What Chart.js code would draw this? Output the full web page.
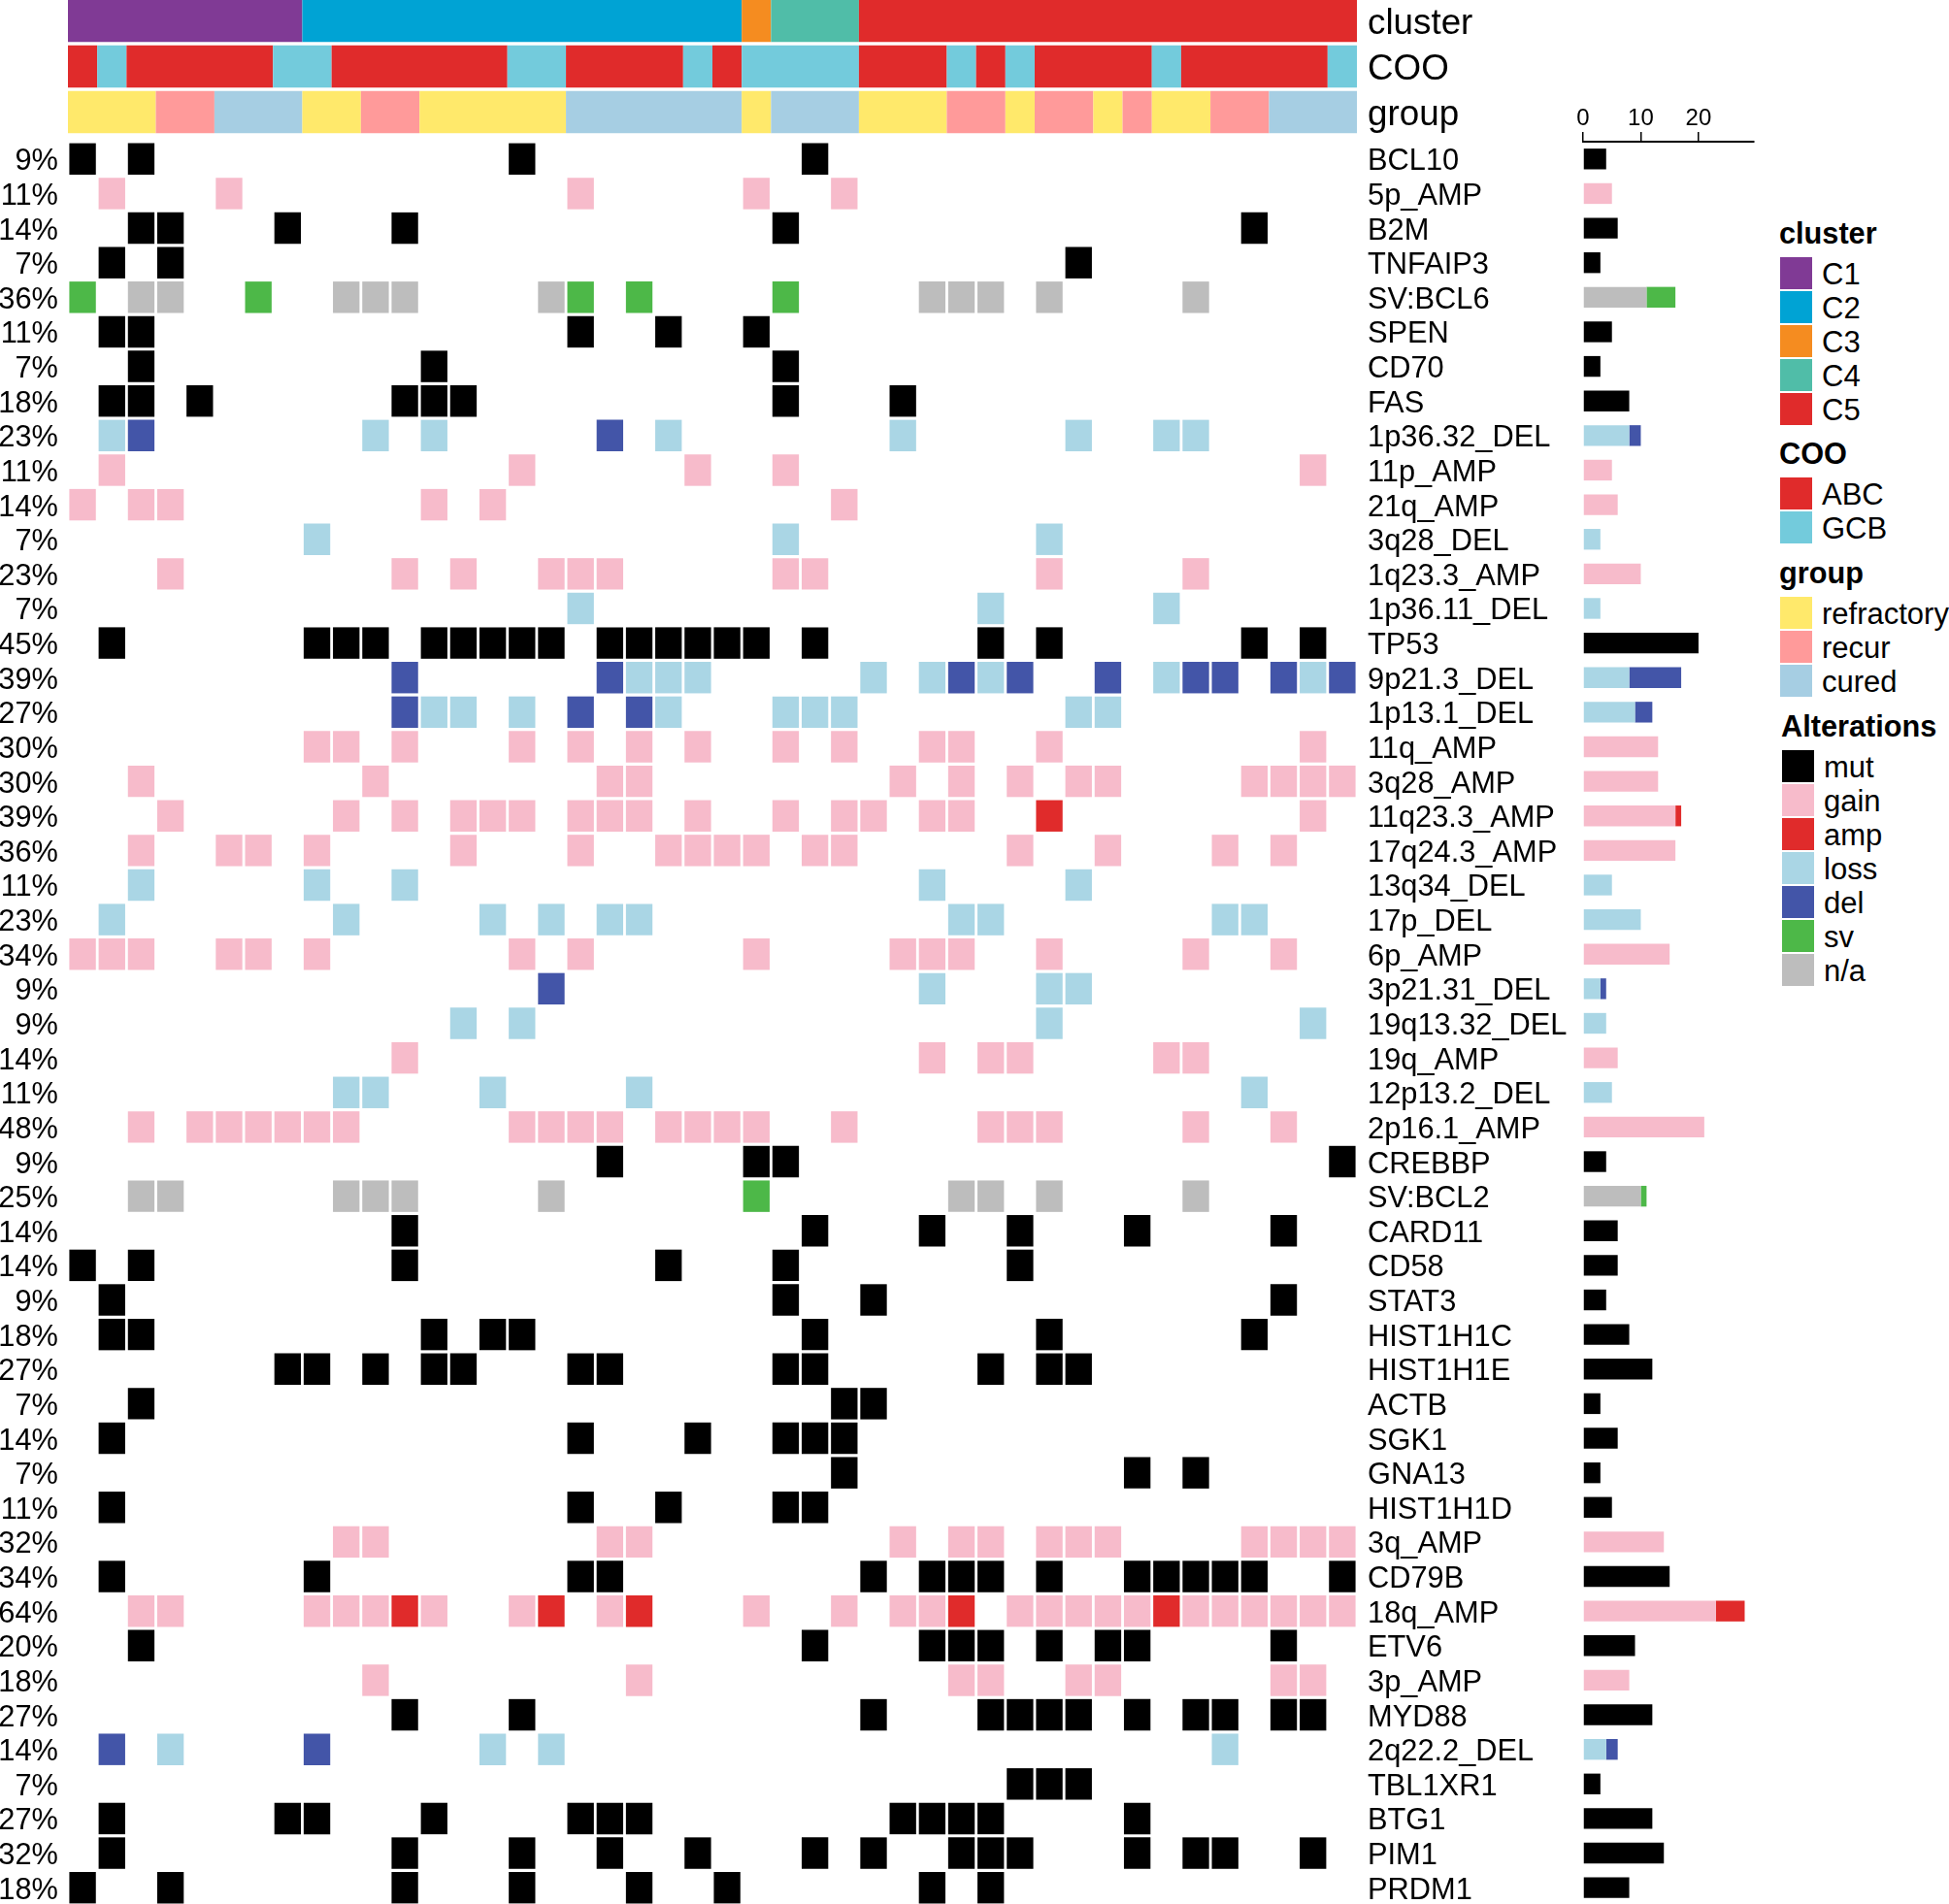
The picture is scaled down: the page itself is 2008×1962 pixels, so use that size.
<!DOCTYPE html>
<html>
<head>
<meta charset="utf-8">
<title>oncoprint</title>
<script src="https://cdn.jsdelivr.net/npm/chart.js@4/dist/chart.umd.min.js"></script>
<style>
  html, body { margin: 0; background: #fff; }
  body { position: relative; width: 2008px; height: 1962px; overflow: hidden; font-family: "Liberation Sans", sans-serif; color: #000; }
  canvas { position: absolute; }
  .legend-title { position: absolute; font-weight: bold; font-size: 30.7px; line-height: 34px; }
  .legend-swatch { position: absolute; width: 33px; height: 32.5px; }
  .legend-label { position: absolute; font-size: 31px; line-height: 33px; white-space: nowrap; }
</style>
</head>
<body>
<canvas id="tracks" width="1616" height="141" style="left:0;top:-2px"></canvas>
<canvas id="matrix" width="1616" height="1817" style="left:0;top:146px"></canvas>
<canvas id="bars" width="216" height="1863" style="left:1601px;top:100px"></canvas>
<script>
const sampleCount = 44;

const genes = ['BCL10', '5p_AMP', 'B2M', 'TNFAIP3', 'SV:BCL6', 'SPEN', 'CD70', 'FAS', '1p36.32_DEL', '11p_AMP',
    '21q_AMP', '3q28_DEL', '1q23.3_AMP', '1p36.11_DEL', 'TP53', '9p21.3_DEL', '1p13.1_DEL', '11q_AMP', '3q28_AMP',
    '11q23.3_AMP', '17q24.3_AMP', '13q34_DEL', '17p_DEL', '6p_AMP', '3p21.31_DEL', '19q13.32_DEL', '19q_AMP',
    '12p13.2_DEL', '2p16.1_AMP', 'CREBBP', 'SV:BCL2', 'CARD11', 'CD58', 'STAT3', 'HIST1H1C', 'HIST1H1E', 'ACTB',
    'SGK1', 'GNA13', 'HIST1H1D', '3q_AMP', 'CD79B', '18q_AMP', 'ETV6', '3p_AMP', 'MYD88', '2q22.2_DEL', 'TBL1XR1',
    'BTG1', 'PIM1', 'PRDM1'];

const percents = ['9%', '11%', '14%', '7%', '36%', '11%', '7%', '18%', '23%', '11%',
    '14%', '7%', '23%', '7%', '45%', '39%', '27%', '30%', '30%',
    '39%', '36%', '11%', '23%', '34%', '9%', '9%', '14%',
    '11%', '48%', '9%', '25%', '14%', '14%', '9%', '18%', '27%', '7%',
    '14%', '7%', '11%', '32%', '34%', '64%', '20%', '18%', '27%', '14%', '7%',
    '27%', '32%', '18%'];

// top annotation tracks: [value, number of samples in a row]
const clusterRuns = [['C1', 8], ['C2', 15], ['C3', 1], ['C4', 3], ['C5', 17]];
const cooRuns = [['ABC', 1], ['GCB', 1], ['ABC', 5], ['GCB', 2], ['ABC', 6], ['GCB', 2], ['ABC', 4], ['GCB', 1],
    ['ABC', 1], ['GCB', 4], ['ABC', 3], ['GCB', 1], ['ABC', 1], ['GCB', 1], ['ABC', 4], ['GCB', 1], ['ABC', 5], ['GCB', 1]];
const groupRuns = [['refractory', 3], ['recur', 2], ['cured', 3], ['refractory', 2], ['recur', 2], ['refractory', 5],
    ['cured', 6], ['refractory', 1], ['cured', 3], ['refractory', 3], ['recur', 2], ['refractory', 1], ['recur', 2],
    ['refractory', 1], ['recur', 1], ['refractory', 2], ['recur', 2], ['cured', 3]];

// sample columns per gene, one list per alteration type
const mutCells = [
    ['BCL10', [0, 2, 15, 25]],
    ['B2M', [2, 3, 7, 11, 24, 40]],
    ['TNFAIP3', [1, 3, 34]],
    ['SPEN', [1, 2, 17, 20, 23]],
    ['CD70', [2, 12, 24]],
    ['FAS', [1, 2, 4, 11, 12, 13, 24, 28]],
    ['TP53', [1, 8, 9, 10, 12, 13, 14, 15, 16, 18, 19, 20, 21, 22, 23, 25, 31, 33, 40, 42]],
    ['CREBBP', [18, 23, 24, 43]],
    ['CARD11', [11, 25, 29, 32, 36, 41]],
    ['CD58', [0, 2, 11, 20, 24, 32]],
    ['STAT3', [1, 24, 27, 41]],
    ['HIST1H1C', [1, 2, 12, 14, 15, 25, 33, 40]],
    ['HIST1H1E', [7, 8, 10, 12, 13, 17, 18, 24, 25, 31, 33, 34]],
    ['ACTB', [2, 26, 27]],
    ['SGK1', [1, 17, 21, 24, 25, 26]],
    ['GNA13', [26, 36, 38]],
    ['HIST1H1D', [1, 17, 20, 24, 25]],
    ['CD79B', [1, 8, 17, 18, 27, 29, 30, 31, 33, 36, 37, 38, 39, 40, 43]],
    ['ETV6', [2, 25, 29, 30, 31, 33, 35, 36, 41]],
    ['MYD88', [11, 15, 27, 31, 32, 33, 34, 36, 38, 39, 41, 42]],
    ['TBL1XR1', [32, 33, 34]],
    ['BTG1', [1, 7, 8, 12, 17, 18, 19, 28, 29, 30, 31, 36]],
    ['PIM1', [1, 11, 15, 18, 21, 25, 27, 30, 31, 32, 36, 38, 39, 42]],
    ['PRDM1', [0, 3, 11, 15, 19, 22, 29, 31]]
];
const gainCells = [
    ['5p_AMP', [1, 5, 17, 23, 26]],
    ['11p_AMP', [1, 15, 21, 24, 42]],
    ['21q_AMP', [0, 2, 3, 12, 14, 26]],
    ['1q23.3_AMP', [3, 11, 13, 16, 17, 18, 24, 25, 33, 38]],
    ['11q_AMP', [8, 9, 11, 15, 17, 19, 21, 24, 26, 29, 30, 33, 42]],
    ['3q28_AMP', [2, 10, 18, 19, 28, 30, 32, 34, 35, 40, 41, 42, 43]],
    ['11q23.3_AMP', [3, 9, 11, 13, 14, 15, 17, 18, 19, 21, 24, 26, 27, 29, 30, 42]],
    ['17q24.3_AMP', [2, 5, 6, 8, 13, 17, 20, 21, 22, 23, 25, 26, 32, 35, 39, 41]],
    ['6p_AMP', [0, 1, 2, 5, 6, 8, 15, 17, 23, 28, 29, 30, 33, 38, 41]],
    ['19q_AMP', [11, 29, 31, 32, 37, 38]],
    ['2p16.1_AMP', [2, 4, 5, 6, 7, 8, 9, 15, 16, 17, 18, 20, 21, 22, 23, 26, 31, 32, 33, 38, 41]],
    ['3q_AMP', [9, 10, 18, 19, 28, 30, 31, 33, 34, 35, 40, 41, 42, 43]],
    ['18q_AMP', [2, 3, 8, 9, 10, 12, 15, 18, 23, 26, 28, 29, 32, 33, 34, 35, 36, 38, 39, 40, 41, 42, 43]],
    ['3p_AMP', [10, 19, 30, 31, 34, 35, 41, 42]]
];
const ampCells = [
    ['11q23.3_AMP', [33]],
    ['18q_AMP', [11, 16, 19, 30, 37]]
];
const lossCells = [
    ['1p36.32_DEL', [1, 10, 12, 20, 28, 34, 37, 38]],
    ['3q28_DEL', [8, 24, 33]],
    ['1p36.11_DEL', [17, 31, 37]],
    ['9p21.3_DEL', [19, 20, 21, 27, 29, 31, 37, 42]],
    ['1p13.1_DEL', [12, 13, 15, 20, 24, 25, 26, 34, 35]],
    ['13q34_DEL', [2, 8, 11, 29, 34]],
    ['17p_DEL', [1, 9, 14, 16, 18, 19, 30, 31, 39, 40]],
    ['3p21.31_DEL', [29, 33, 34]],
    ['19q13.32_DEL', [13, 15, 33, 42]],
    ['12p13.2_DEL', [9, 10, 14, 19, 40]],
    ['2q22.2_DEL', [3, 14, 16, 39]]
];
const delCells = [
    ['1p36.32_DEL', [2, 18]],
    ['9p21.3_DEL', [11, 18, 30, 32, 35, 38, 39, 41, 43]],
    ['1p13.1_DEL', [11, 17, 19]],
    ['3p21.31_DEL', [16]],
    ['2q22.2_DEL', [1, 8]]
];
const svCells = [
    ['SV:BCL6', [0, 6, 17, 19, 24]],
    ['SV:BCL2', [23]]
];
const naCells = [
    ['SV:BCL6', [2, 3, 9, 10, 11, 16, 29, 30, 31, 33, 38]],
    ['SV:BCL2', [2, 3, 9, 10, 11, 16, 30, 31, 33, 38]]
];

const colors = {
    C1: '#803a95', C2: '#00a3d4', C3: '#f58c20', C4: '#50bda8', C5: '#e02b2b',
    ABC: '#e02b2b', GCB: '#73cbdc',
    refractory: '#ffe96b', recur: '#ff9a9a', cured: '#a6cee3',
    mut: '#000000', gain: '#f7bbcb', amp: '#e02b2b', loss: '#aad6e5', del: '#4355a8', sv: '#4db848', 'n/a': '#bdbdbd'
};

const fontName = '"Liberation Sans", sans-serif';
const cellGap = 0.047;

// shared by the three charts
function baseOptions() {
    return {
        responsive: false,
        animation: false,
        indexAxis: 'y',
        events: [],
        plugins: { legend: { display: false }, tooltip: { enabled: false } }
    };
}

function hiddenColumnAxis() {
    return { type: 'linear', min: 0, max: sampleCount, display: false };
}

function labelAxis(position, labels, size, padding, width) {
    return {
        axis: 'y',
        type: 'category',
        position: position,
        labels: labels,
        offset: true,
        grid: { display: false, drawTicks: false },
        border: { display: false },
        ticks: {
            autoSkip: false,
            color: '#000',
            padding: padding,
            labelOffset: 3,
            font: { family: fontName, size: size }
        },
        afterFit: function (scale) {
            // fixed gutter, and no extra room for the first and last label
            scale.width = width;
            scale.paddingTop = 0;
            scale.paddingBottom = 0;
        }
    };
}

function trackDataset(name, runs) {
    let start = 0;
    const data = runs.map(function (run) {
        const bar = { x: [start, start + run[1]], y: name };
        start += run[1];
        return bar;
    });
    return {
        data: data,
        backgroundColor: runs.map(function (run) { return colors[run[0]]; }),
        grouped: false,
        barPercentage: 0.93,
        categoryPercentage: 1,
        inflateAmount: 0
    };
}

function cellDataset(type, rows) {
    const data = [];
    rows.forEach(function (row) {
        row[1].forEach(function (col) {
            data.push({ x: [col + cellGap, col + 1 - cellGap], y: row[0] });
        });
    });
    return {
        label: type,
        data: data,
        backgroundColor: colors[type],
        grouped: false,
        barPercentage: 0.91,
        categoryPercentage: 1,
        inflateAmount: 0
    };
}

function countDataset(type, rows) {
    const counts = genes.map(function (gene) {
        const row = rows.find(function (r) { return r[0] === gene; });
        return row ? row[1].length : 0;
    });
    return {
        label: type,
        data: counts,
        backgroundColor: colors[type],
        stack: 'all',
        barPercentage: 0.6,
        categoryPercentage: 1,
        inflateAmount: 0
    };
}

new Chart(document.getElementById('tracks'), {
    type: 'bar',
    data: {
        labels: ['cluster', 'COO', 'group'],
        datasets: [
            trackDataset('cluster', clusterRuns),
            trackDataset('COO', cooRuns),
            trackDataset('group', groupRuns)
        ]
    },
    options: Object.assign(baseOptions(), {
        layout: { padding: { left: 70 } },
        scales: {
            x: hiddenColumnAxis(),
            y: labelAxis('right', ['cluster', 'COO', 'group'], 36.8, 11, 218)
        }
    })
});

const alterations = [['mut', mutCells], ['gain', gainCells], ['amp', ampCells], ['loss', lossCells],
    ['del', delCells], ['sv', svCells], ['n/a', naCells]];

new Chart(document.getElementById('matrix'), {
    type: 'bar',
    data: {
        labels: genes,
        datasets: alterations.map(function (a) { return cellDataset(a[0], a[1]); })
    },
    options: Object.assign(baseOptions(), {
        scales: {
            x: hiddenColumnAxis(),
            y: labelAxis('right', genes, 30.8, 11, 218),
            pct: labelAxis('left', percents, 30.8, 10, 70)
        }
    })
});

// grey goes before green in the stacked bars
const barOrder = [['mut', mutCells], ['gain', gainCells], ['amp', ampCells], ['loss', lossCells],
    ['del', delCells], ['n/a', naCells], ['sv', svCells]];

new Chart(document.getElementById('bars'), {
    type: 'bar',
    data: {
        labels: genes,
        datasets: barOrder.map(function (a) { return countDataset(a[0], a[1]); })
    },
    options: Object.assign(baseOptions(), {
        layout: { padding: { left: 30, right: 10 } },
        scales: {
            x: {
                type: 'linear',
                position: 'top',
                stacked: true,
                min: 0,
                max: 29.6,
                grid: { drawOnChartArea: false, color: '#000', tickLength: 10, lineWidth: 1.5, tickColor: '#000' },
                border: { color: '#000', width: 2 },
                ticks: {
                    stepSize: 10,
                    includeBounds: false,
                    maxRotation: 0,
                    color: '#000',
                    padding: -1,
                    font: { family: fontName, size: 24 }
                },
                afterFit: function (scale) { scale.height = 46; }
            },
            y: { type: 'category', stacked: true, offset: true, display: false }
        }
    })
});

// legend blocks on the right
const legendBlocks = [
    ['cluster', ['C1', 'C2', 'C3', 'C4', 'C5']],
    ['COO', ['ABC', 'GCB']],
    ['group', ['refractory', 'recur', 'cured']],
    ['Alterations', ['mut', 'gain', 'amp', 'loss', 'del', 'sv', 'n/a']]
];
const legendTops = [265, 492, 615, 773];
const legendLefts = [1834, 1834, 1834, 1836];

function addLegendNode(cls, left, top, text, color) {
    const el = document.createElement('div');
    el.className = cls;
    el.style.left = left + 'px';
    el.style.top = top + 'px';
    if (text) el.textContent = text;
    if (color) el.style.background = color;
    document.body.appendChild(el);
}

legendBlocks.forEach(function (block, b) {
    const left = legendLefts[b];
    const top = legendTops[b];
    addLegendNode('legend-title', left - 1, top - 41, block[0]);
    block[1].forEach(function (item, i) {
        addLegendNode('legend-swatch', left, top + i * 35, '', colors[item]);
        addLegendNode('legend-label', left + 43, top + i * 35 + 1, item);
    });
});
</script>
</body>
</html>
